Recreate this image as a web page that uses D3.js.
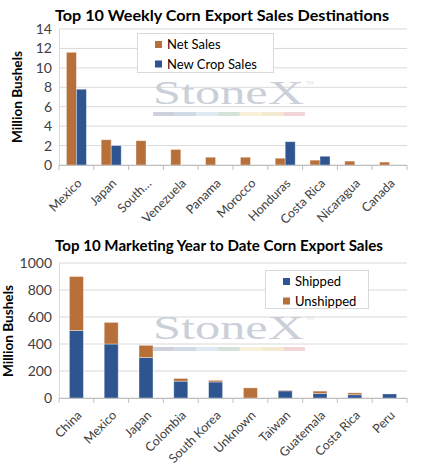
<!DOCTYPE html>
<html>
<head>
<meta charset="utf-8">
<script src="https://cdn.jsdelivr.net/npm/d3@7"></script>
<style>
  body { margin: 0; background: #fff; }
  svg { font-family: Lato, "Open Sans", sans-serif; }
</style>
</head>
<body>
<svg id="chart" width="436" height="467"></svg>
<script>
// weekly sales (million bushels)
const weeklyCountries = ["Mexico", "Japan", "South\u2026", "Venezuela", "Panama", "Morocco", "Honduras", "Costa Rica", "Nicaragua", "Canada"];
const netSales = [11.6, 2.6, 2.5, 1.6, 0.8, 0.8, 0.7, 0.5, 0.4, 0.3];
const newCropSales = [7.8, 2.0, 0, 0, 0, 0, 2.4, 0.9, 0, 0];
const weeklyTicks = [0, 2, 4, 6, 8, 10, 12, 14];

// marketing year to date (million bushels)
const mytdCountries = ["China", "Mexico", "Japan", "Colombia", "South Korea", "Unknown", "Taiwan", "Guatemala", "Costa Rica", "Peru"];
const shipped = [500, 400, 300, 125, 119, 0, 53, 34, 24, 30];
const unshipped = [400, 160, 90, 20, 12, 75, 5, 17, 14, 0];
const mytdTicks = [0, 200, 400, 600, 800, 1000];

const orange = "#b8703b";
const blue = "#2e5590";
const grid = "#d9d9d9";
const textCol = "#404040";

const svg = d3.select("#chart");

function watermark(g, x, y) {
  const wm = g.append("g").attr("transform", `translate(${x},${y})`);
  wm.append("text")
    .attr("x", 0).attr("y", 0)
    .style("font-family", "'Liberation Serif', 'DejaVu Serif', serif")
    .style("font-size", "34px")
    .attr("textLength", 151)
    .attr("lengthAdjust", "spacingAndGlyphs")
    .attr("fill", "#cbd0d8")
    .text("StoneX");
  wm.append("text")
    .attr("x", 153).attr("y", -19)
    .style("font-size", "5px")
    .attr("fill", "#d8dbe0")
    .text("TM");
  const stripes = ["#ccd1da", "#d0dbe8", "#dde9f3", "#d5e2d8", "#f6f1d8", "#f6e9d2", "#f2d6d7"];
  wm.selectAll("rect").data(stripes).join("rect")
    .attr("x", (d, i) => i * 21.7).attr("y", 8)
    .attr("width", 21.7).attr("height", 4)
    .attr("fill", d => d);
}

function frame(opts) {
  const g = svg.append("g").attr("transform", `translate(0,${opts.top})`);

  g.append("text")
    .attr("x", opts.titleX).attr("y", opts.titleY)
    .attr("textLength", opts.titleW)
    .attr("lengthAdjust", "spacingAndGlyphs")
    .style("font-weight", "bold").style("font-size", "15px")
    .attr("fill", "#000")
    .text(opts.title);

  const x = d3.scaleBand().domain(opts.cats).range([59, 407]);
  const y = d3.scaleLinear().domain(opts.domain).range([opts.y0, opts.y1]);

  // gridlines
  g.selectAll(".grid").data(opts.ticks).join("line")
    .attr("x1", 59).attr("x2", 407)
    .attr("y1", d => y(d)).attr("y2", d => y(d))
    .attr("stroke", grid).attr("stroke-width", 1);
  g.append("line").attr("x1", 59.5).attr("x2", 59.5)
    .attr("y1", y(opts.domain[1])).attr("y2", y(0))
    .attr("stroke", grid);

  watermark(g, opts.wmX, opts.wmY);

  // y axis
  const yAxis = g.append("g").attr("transform", "translate(59,0)")
    .call(d3.axisLeft(y).tickValues(opts.ticks).tickFormat(d3.format("d")).tickSize(0).tickPadding(7));
  yAxis.select(".domain").remove();
  yAxis.selectAll("text").style("font-size", "14px").attr("fill", textCol).style("font-family", "Lato, sans-serif");

  g.append("text")
    .attr("transform", `translate(${opts.labelX},${opts.labelY}) rotate(-90)`)
    .attr("text-anchor", "middle")
    .attr("textLength", 92)
    .attr("lengthAdjust", "spacingAndGlyphs")
    .style("font-weight", "bold").style("font-size", "13.5px")
    .attr("fill", "#000")
    .text("Million Bushels");

  return { g, x, y };
}

function xAxis(f, opts) {
  const { g, x, y } = f;
  g.append("line").attr("x1", 59).attr("x2", 407)
    .attr("y1", y(0) + 0.5).attr("y2", y(0) + 0.5)
    .attr("stroke", "#bfbfbf");
  const bounds = d3.range(opts.cats.length + 1).map(i => 59 + i * x.step());
  g.selectAll(".tk").data(bounds).join("line")
    .attr("x1", d => d).attr("x2", d => d)
    .attr("y1", y(0)).attr("y2", y(0) + 5)
    .attr("stroke", "#bfbfbf");
  g.selectAll(".xl").data(opts.cats).join("text")
    .attr("transform", d => `translate(${x(d) + x.bandwidth() / 2 + 3},${y(0) + opts.dy}) rotate(-45)`)
    .attr("text-anchor", "end")
    .attr("dy", "0.35em")
    .style("font-size", "12.5px")
    .attr("fill", textCol)
    .text(d => d);
}

function legend(g, x0, y0, w, h, items) {
  g.append("rect").attr("x", x0 + 0.5).attr("y", y0 + 0.5)
    .attr("width", w).attr("height", h)
    .attr("fill", "#fff").attr("stroke", grid);
  items.forEach((it, i) => {
    g.append("rect").attr("x", x0 + 18).attr("y", y0 + 8 + i * 19.5)
      .attr("width", 7).attr("height", 7).attr("fill", it.color);
    g.append("text").attr("x", x0 + 30).attr("y", y0 + 16 + i * 19.5)
      .style("font-size", "13px").attr("fill", "#000")
      .text(it.name);
  });
}

// ---- top chart: grouped bars
const weekly = frame({
  top: 0, titleX: 55, titleY: 21, titleW: 334, title: "Top 10 Weekly Corn Export Sales Destinations",
  cats: weeklyCountries, domain: [0, 14], ticks: weeklyTicks,
  y0: 165, y1: 29, labelX: 22, labelY: 97, wmX: 153, wmY: 104
});
const inner = d3.scaleBand().domain(["net", "new"]).range([0, 20]);
const weeklyRows = weeklyCountries.map((c, i) => ({ c, net: netSales[i], new: newCropSales[i] }));
weekly.g.selectAll(".grp").data(weeklyRows).join("g")
  .attr("transform", d => `translate(${weekly.x(d.c) + weekly.x.bandwidth() / 2 - 10},0)`)
  .selectAll("rect")
  .data(d => [{ k: "net", v: d.net }, { k: "new", v: d.new }].filter(e => e.v > 0))
  .join("rect")
  .attr("x", d => inner(d.k))
  .attr("width", inner.bandwidth())
  .attr("y", d => weekly.y(d.v))
  .attr("height", d => weekly.y(0) - weekly.y(d.v))
  .attr("fill", d => d.k === "net" ? orange : blue)
  .attr("stroke", "#fff").attr("stroke-opacity", 0.45).attr("stroke-width", 0.8);
xAxis(weekly, { cats: weeklyCountries, dy: 16 });
legend(weekly.g, 137, 33, 136, 39, [{ name: "Net Sales", color: orange }, { name: "New Crop Sales", color: blue }]);

// ---- bottom chart: stacked bars
const mytd = frame({
  top: 230, titleX: 55, titleY: 21, titleW: 328, title: "Top 10 Marketing Year to Date Corn Export Sales",
  cats: mytdCountries, domain: [0, 1000], ticks: mytdTicks,
  y0: 168, y1: 33, labelX: 13, labelY: 101, wmX: 153, wmY: 109
});
const mytdRows = mytdCountries.map((c, i) => ({ c, shipped: shipped[i], unshipped: unshipped[i] }));
const stack = d3.stack().keys(["shipped", "unshipped"])(mytdRows);
const bw = 14;
mytd.g.selectAll(".layer").data(stack).join("g")
  .attr("fill", d => d.key === "shipped" ? blue : orange)
  .selectAll("rect")
  .data(d => d.filter(s => s[1] > s[0]))
  .join("rect")
  .attr("x", d => mytd.x(d.data.c) + mytd.x.bandwidth() / 2 - bw / 2)
  .attr("width", bw)
  .attr("y", d => mytd.y(d[1]))
  .attr("height", d => mytd.y(d[0]) - mytd.y(d[1]))
  .attr("stroke", "#fff").attr("stroke-opacity", 0.45).attr("stroke-width", 0.8);
xAxis(mytd, { cats: mytdCountries, dy: 15 });
legend(mytd.g, 265, 40, 103, 38, [{ name: "Shipped", color: blue }, { name: "Unshipped", color: orange }]);
</script>
</body>
</html>
